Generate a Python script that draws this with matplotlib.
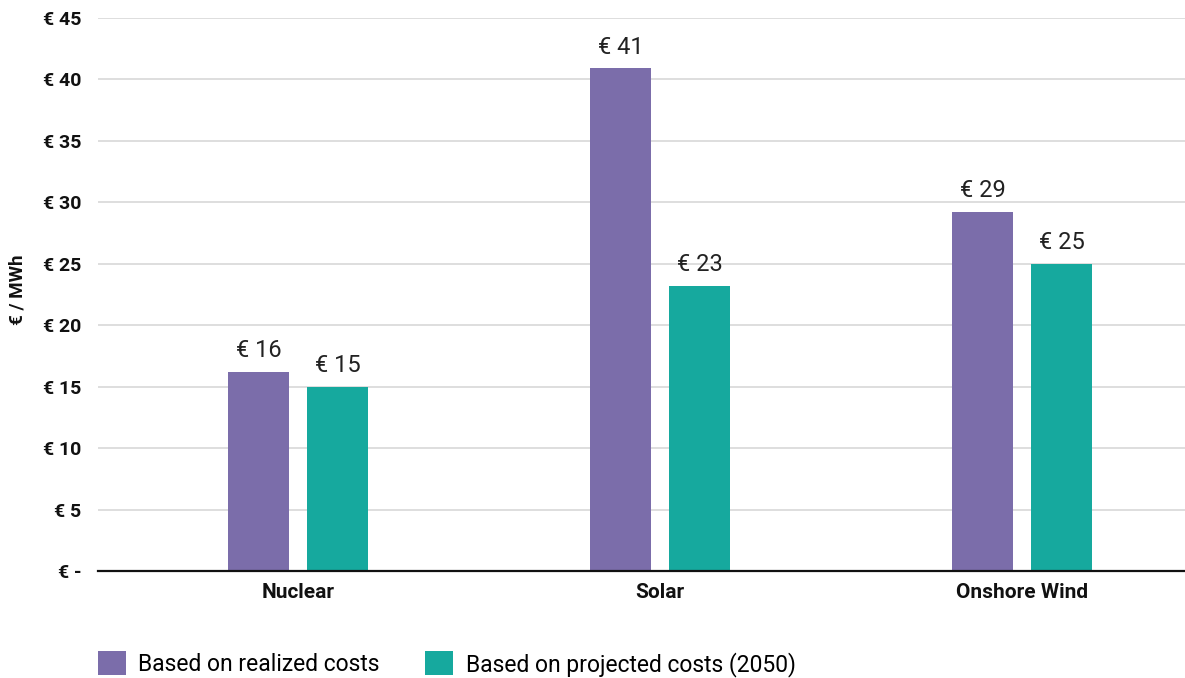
import matplotlib
matplotlib.use("Agg")
import matplotlib.pyplot as plt
import numpy as np
from matplotlib.patches import Patch

plt.rcParams['font.family'] = ['Roboto', 'DejaVu Sans']

categories = ["Nuclear", "Solar", "Onshore Wind"]
realized = [16.2, 40.9, 29.2]
projected = [15.0, 23.2, 25.0]
series_names = ["Based on realized costs", "Based on projected costs (2050)"]
y_ticks = [0, 5, 10, 15, 20, 25, 30, 35, 40, 45]
y_tick_labels = ["€ -"] + [f"€ {t}" for t in y_ticks[1:]]

purple = "#7B6DAA"
teal = "#16A99E"

fig = plt.figure(figsize=(11.85, 6.78), dpi=100)
ax = fig.add_axes([98 / 1185, 107 / 678, 1087 / 1185, 553 / 678])

x = np.arange(len(categories))
width = 0.1685
offset = 0.109

b1 = ax.bar(x - offset, realized, width, color=purple, zorder=3)
b2 = ax.bar(x + offset, projected, width, color=teal, zorder=3)

for bars, vals in ((b1, realized), (b2, projected)):
    for rect, v in zip(bars, vals):
        ax.annotate(f"€ {v:.0f}", (rect.get_x() + rect.get_width() / 2, v),
                    xytext=(0, 7), textcoords="offset points",
                    ha="center", va="bottom", fontsize=17, color="#222222")

ax.set_xlim(-0.5525, 2.45)
ax.set_ylim(0, 45)
ax.set_yticks(y_ticks)
ax.set_yticklabels(y_tick_labels, fontsize=14, fontweight="bold", color="#111111")
ax.set_xticks(x)
ax.set_xticklabels(categories, fontsize=15, fontweight="bold", color="#111111")
ax.tick_params(axis="y", length=0, pad=12)
ax.tick_params(axis="x", length=0, pad=9)

ax.yaxis.grid(True, color="#D4D4D4", linewidth=1.1, zorder=0)
ax.set_axisbelow(True)
for s in ("top", "right", "left"):
    ax.spines[s].set_visible(False)
ax.spines["bottom"].set_color("#111111")
ax.spines["bottom"].set_linewidth(1.6)
ax.spines["bottom"].set_zorder(4)

fig.text(18 / 1185, 1 - 290 / 678, "€ / MWh", rotation=90, ha="center", va="center",
         fontsize=13.5, fontweight="bold", color="#111111")

handles = [Patch(facecolor=purple), Patch(facecolor=teal)]
fig.legend(handles, series_names, loc="center left",
           bbox_to_anchor=(98 / 1185, 14 / 678), ncol=2, frameon=False,
           fontsize=16.5, handlelength=1.2, handleheight=1.2,
           handletextpad=0.55, columnspacing=2.0, borderpad=0, borderaxespad=0)

fig.savefig("out.png", dpi=100)
